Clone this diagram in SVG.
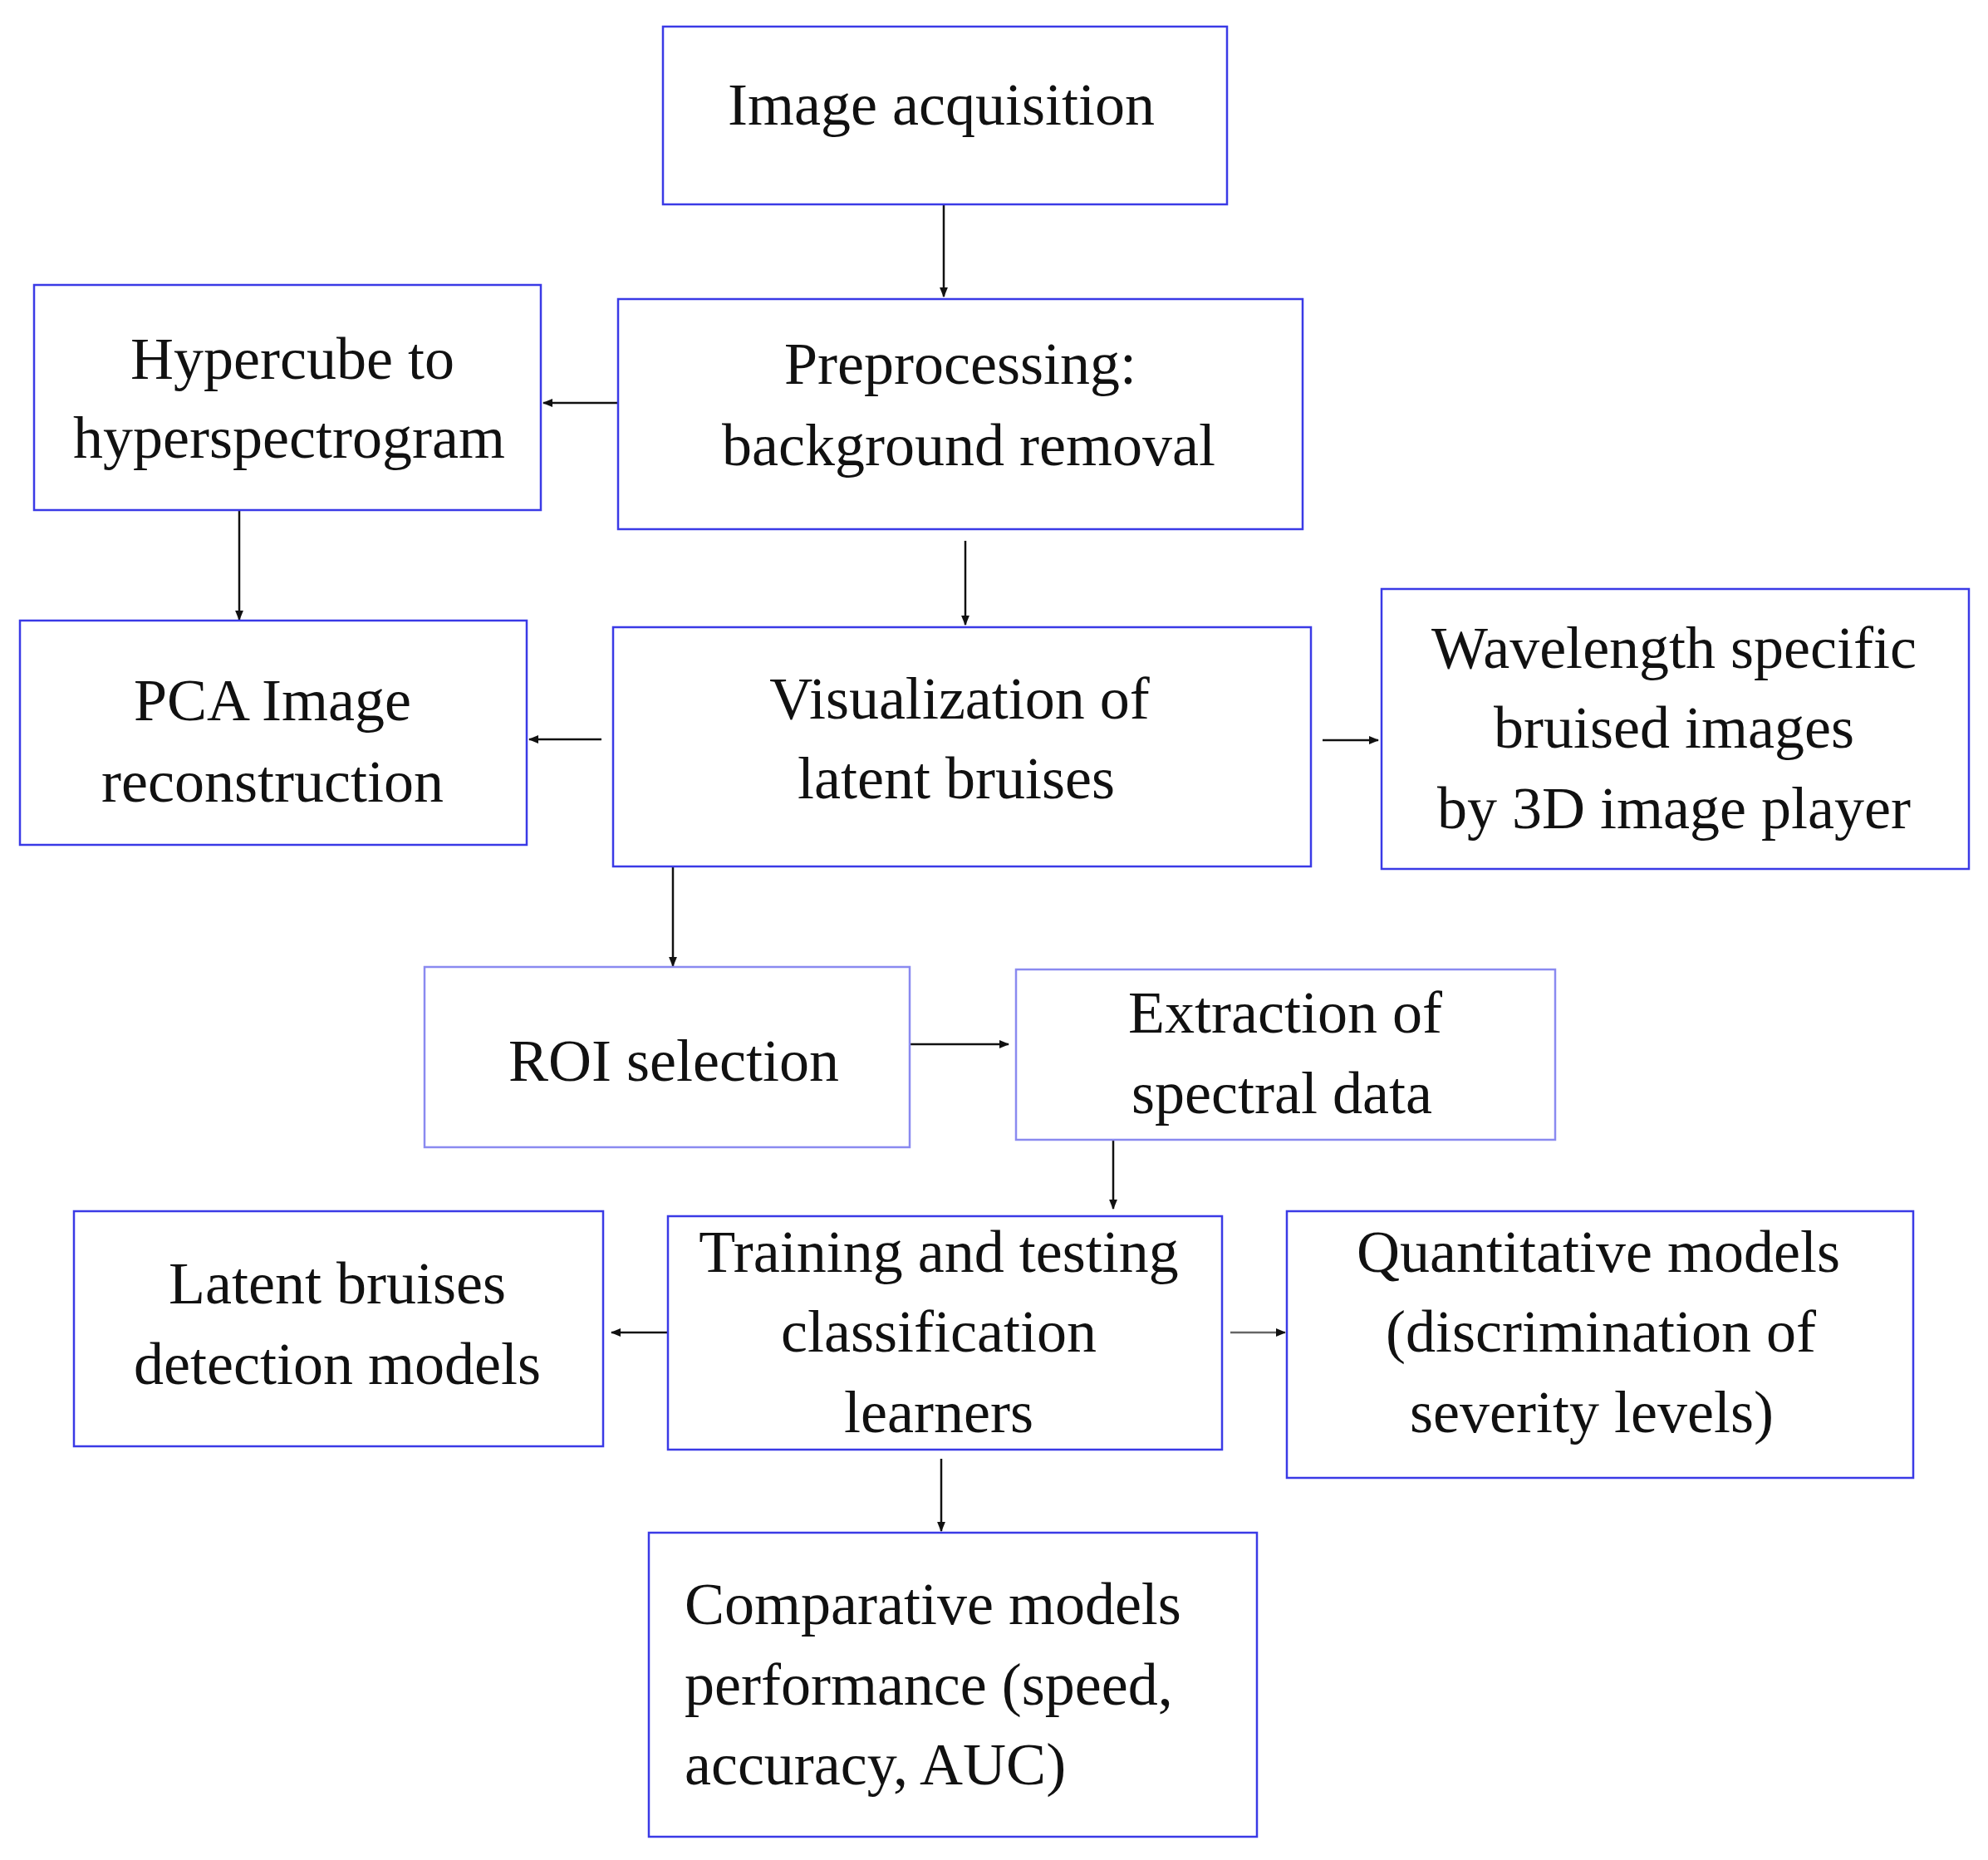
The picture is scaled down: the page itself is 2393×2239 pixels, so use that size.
<svg xmlns="http://www.w3.org/2000/svg" width="2393" height="2239" viewBox="0 0 2393 2239">
<defs>
<style>
.b{fill:#fff;stroke:#3a3ae6;stroke-width:2.5}
.t{font-family:"Liberation Serif","Times New Roman",serif;font-size:72px;fill:#111;text-anchor:middle}
.l{text-anchor:start}
.c{stroke:#111;stroke-width:2.5;fill:none;marker-end:url(#a)}
</style>
<marker id="a" viewBox="0 0 10 10" refX="9" refY="5" markerWidth="5" markerHeight="5" orient="auto"><path d="M0,1 L10,5 L0,9 Z" fill="#111"/></marker>
</defs>
<rect width="2393" height="2239" fill="#fff"/>
<g id="connectors">
<line class="c" x1="1136" y1="246" x2="1136" y2="357"/>
<line class="c" x1="743" y1="485" x2="654" y2="485"/>
<line class="c" x1="288" y1="614" x2="288" y2="746"/>
<line class="c" x1="1162" y1="651" x2="1162" y2="752"/>
<line class="c" x1="724" y1="890" x2="637" y2="890"/>
<line class="c" x1="1592" y1="891" x2="1659" y2="891"/>
<line class="c" x1="810" y1="1043" x2="810" y2="1163"/>
<line class="c" x1="1095" y1="1257" x2="1214" y2="1257" stroke-width="4"/>
<line class="c" x1="1340" y1="1370" x2="1340" y2="1455"/>
<line class="c" x1="804" y1="1604" x2="736" y2="1604"/>
<line class="c" x1="1481" y1="1604" x2="1547" y2="1604" style="stroke:#666"/>
<line class="c" x1="1133" y1="1756" x2="1133" y2="1843"/>
</g>
<g id="n1"><rect class="b" x="798" y="32" width="679" height="214"/><text class="t" x="1133" y="150">Image acquisition</text></g>
<g id="n2"><rect class="b" x="41" y="343" width="610" height="271"/><text class="t" x="352" y="456">Hypercube to</text><text class="t" x="348" y="551">hyperspectrogram</text></g>
<g id="n3"><rect class="b" x="744" y="360" width="824" height="277"/><text class="t" x="1156" y="462">Preprocessing:</text><text class="t" x="1166" y="560">background removal</text></g>
<g id="n4"><rect class="b" x="24" y="747" width="610" height="270"/><text class="t" x="328" y="867">PCA Image</text><text class="t" x="328" y="965">reconstruction</text></g>
<g id="n5"><rect class="b" x="738" y="755" width="840" height="288"/><text class="t" x="1155" y="865">Visualization of</text><text class="t" x="1151" y="961">latent bruises</text></g>
<g id="n6"><rect class="b" x="1663" y="709" width="707" height="337"/><text class="t" x="2015" y="804">Wavelength specific</text><text class="t" x="2015" y="900">bruised images</text><text class="t" x="2015" y="997">by 3D image player</text></g>
<g id="n7"><rect class="b" x="511" y="1164" width="584" height="217" style="stroke:#8a8af0"/><text class="t" x="811" y="1301">ROI selection</text></g>
<g id="n8"><rect class="b" x="1223" y="1167" width="649" height="205" style="stroke:#8a8af0"/><text class="t" x="1547" y="1243">Extraction of</text><text class="t" x="1543" y="1340">spectral data</text></g>
<g id="n9"><rect class="b" x="89" y="1458" width="637" height="283"/><text class="t" x="406" y="1569">Latent bruises</text><text class="t" x="406" y="1666">detection models</text></g>
<g id="n10"><rect class="b" x="804" y="1464" width="667" height="281"/><text class="t" x="1130" y="1531">Training and testing</text><text class="t" x="1130" y="1627">classification</text><text class="t" x="1130" y="1724">learners</text></g>
<g id="n11"><rect class="b" x="1549" y="1458" width="754" height="321"/><text class="t" x="1924" y="1531">Quantitative models</text><text class="t" x="1927" y="1627">(discrimination of</text><text class="t" x="1916" y="1724">severity levels)</text></g>
<g id="n12"><rect class="b" x="781" y="1845" width="732" height="366"/><text class="t l" x="824" y="1955">Comparative models</text><text class="t l" x="824" y="2052">performance (speed,</text><text class="t l" x="824" y="2148">accuracy, AUC)</text></g>
</svg>
